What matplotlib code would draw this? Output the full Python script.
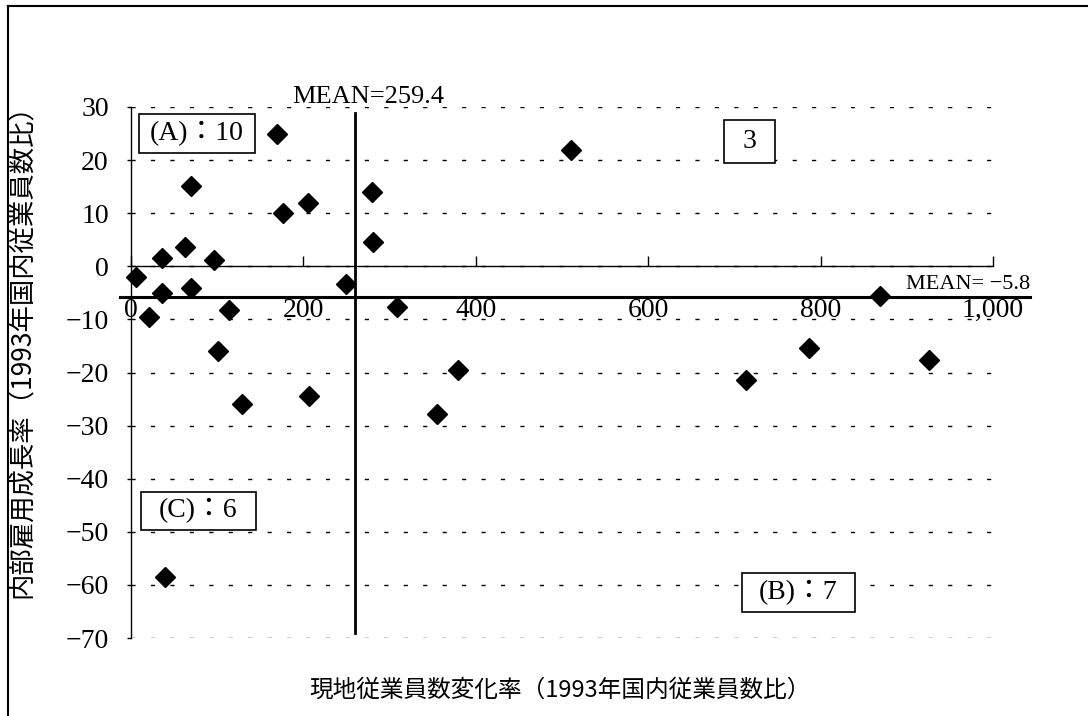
import matplotlib
matplotlib.use("Agg")
import matplotlib.pyplot as plt
from matplotlib.lines import Line2D
from matplotlib.patches import Rectangle

plt.rcParams['font.family'] = ['Liberation Serif', 'Noto Sans CJK JP']

# values
overseas_change = [6, 21, 36, 36, 63, 70, 70, 96, 114, 169, 176, 205, 249,
                   280, 281, 101, 129, 207, 309, 379, 355, 40,
                   510, 714, 787, 926, 869]
domestic_growth = [-2.1, -9.6, 1.5, -5.1, 3.7, 15.1, -4.1, 1.1, -8.2, 24.9, 10.1, 12.0, -3.4,
                   13.9, 4.5, -15.9, -25.9, -24.5, -7.6, -19.5, -27.8, -58.5,
                   21.9, -21.5, -15.3, -17.7, -5.5]
mean_x = 259.4
mean_y = -5.8
x_ticks = [0, 200, 400, 600, 800, 1000]
x_tick_labels = ["0", "200", "400", "600", "800", "1,000"]
y_ticks = [30, 20, 10, 0, -10, -20, -30, -40, -50, -60, -70]
quadrant_labels = ["(A)：10", "3", "(C)：6", "(B)：7"]

W, H = 1088, 716
fig = plt.figure(figsize=(W / 100, H / 100), dpi=100)

def fx(px):
    return px / W

def fy(py):
    return 1 - py / H

# frame of the scanned page (left and top edges only)
fig.add_artist(Line2D([fx(8), fx(8)], [fy(6), 0], color="black", lw=1.5))
fig.add_artist(Line2D([fx(8), 1], [fy(6), fy(6)], color="black", lw=1.5))

ax = fig.add_axes([fx(131), fy(638), fx(993 - 131), (638 - 107) / H])
ax.set_xlim(0, 1000)
ax.set_ylim(-70, 30)

# dotted grid at every 10
for v in y_ticks:
    ax.axhline(v, color="black", lw=1.0, dashes=(3, 11), zorder=1)

ax.spines['top'].set_visible(False)
ax.spines['right'].set_visible(False)
ax.spines['bottom'].set_position(('data', 0))
ax.spines['bottom'].set_linewidth(1.0)
ax.spines['left'].set_linewidth(1.0)

ax.set_xticks(x_ticks)
ax.set_xticklabels(x_tick_labels)
ax.tick_params(axis='x', direction='in', length=7, width=1, pad=23, labelsize=20)
ax.set_yticks(y_ticks)
ax.set_yticklabels([str(v).replace("-", "\u2212") for v in y_ticks])
ax.tick_params(axis='y', direction='out', length=3, width=1, pad=13, labelsize=20)

# mean lines
ax.axvline(mean_x, ymin=0.009, ymax=0.989, color="black", lw=2.0, zorder=2)
ax.axhline(mean_y, xmin=-0.013, xmax=1.043, color="black", lw=2.2, zorder=2, clip_on=False)
ax.annotate(f"MEAN={mean_x}", xy=(mean_x, 30), xytext=(10, 7), textcoords="offset points",
            ha="center", va="center", fontsize=19, annotation_clip=False)
ax.annotate(f"MEAN= {mean_y}".replace("-", "\u2212"), xy=(1.043, mean_y),
            xycoords=("axes fraction", "data"), xytext=(0, 9), textcoords="offset points",
            ha="right", va="center", fontsize=16, annotation_clip=False)

ax.plot(overseas_change, domestic_growth, ls="none", marker="D", ms=10,
        color="black", zorder=3, clip_on=False)

# quadrant count boxes
boxes = [(139, 114, 255, 153), (724, 120, 775, 163), (141, 492, 256, 530), (742, 573, 855, 612)]
for (x0, y0, x1, y1), label in zip(boxes, quadrant_labels):
    fig.add_artist(Rectangle((fx(x0), fy(y1)), fx(x1 - x0), (y1 - y0) / H,
                             facecolor="white", edgecolor="black", lw=1.2, zorder=5))
    fig.text(fx((x0 + x1) / 2), fy((y0 + y1) / 2), label, ha="center", va="center",
             fontsize=20, zorder=6)

fig.text(fx(560), fy(690), "現地従業員数変化率（1993年国内従業員数比）",
         ha="center", va="center", fontsize=17, family=['Noto Sans CJK JP', 'DejaVu Sans'])
fig.text(fx(22), fy(345), "内部雇用成長率（1993年国内従業員数比）",
         ha="center", va="center", rotation=90, fontsize=19,
         family=['Noto Sans CJK JP', 'DejaVu Sans'])

fig.savefig("out.png", dpi=100)
